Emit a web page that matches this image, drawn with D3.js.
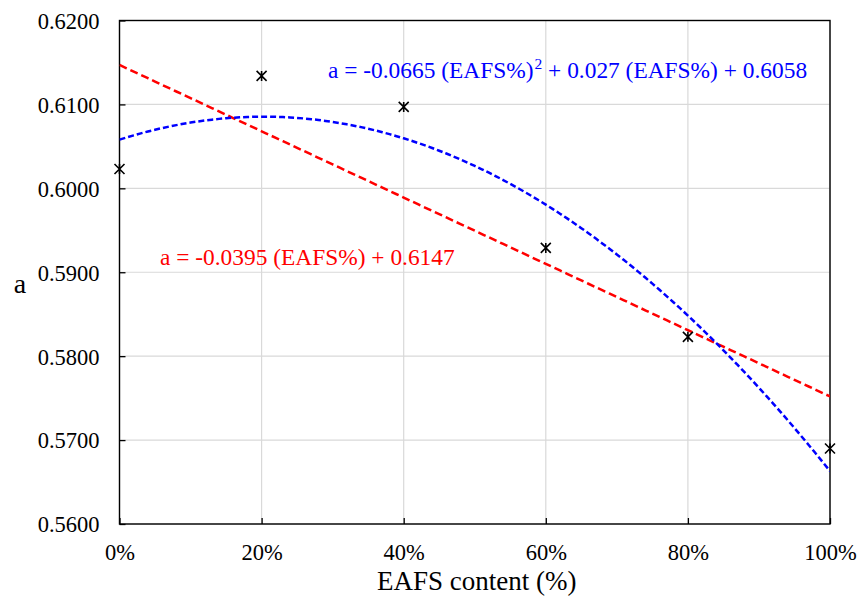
<!DOCTYPE html>
<html>
<head>
<meta charset="utf-8">
<script src="https://cdn.jsdelivr.net/npm/d3@7"></script>
<style>
  html, body { margin: 0; padding: 0; background: #fff; }
  svg text { font-family: "Liberation Serif", "DejaVu Serif", serif !important; }
</style>
</head>
<body>
<svg id="chart" width="862" height="601"></svg>
<script>
// ---- data ----
const eafsContent = [0, 0.2, 0.4, 0.6, 0.8, 1.0];
const aValues = [0.6023, 0.6134, 0.6097, 0.5929, 0.5823, 0.5690];
const linearCoef = [-0.0395, 0.6147];          // slope, intercept
const quadCoef = [-0.0665, 0.027, 0.6058];     // a2, a1, a0
const xTicks = [0, 0.2, 0.4, 0.6, 0.8, 1.0];
const yTicks = [0.56, 0.57, 0.58, 0.59, 0.60, 0.61, 0.62];
const linearLabel = "a = -0.0395 (EAFS%) + 0.6147";
const quadLabelParts = ["a = -0.0665 (EAFS%)", "2", " + 0.027 (EAFS%) + 0.6058"];
const xTitle = "EAFS content (%)";
const yTitle = "a";

// ---- layout ----
const svg = d3.select("#chart");
const pLeft = 119.5, pRight = 830, pTop = 20.5, pBottom = 524;
const x = d3.scaleLinear().domain([0, 1]).range([pLeft, pRight]);
const y = d3.scaleLinear().domain([0.56, 0.62]).range([pBottom, pTop]);
const FONT = "Liberation Serif, DejaVu Serif, serif";

// gridlines
svg.append("g").selectAll("line").data(yTicks).join("line")
  .attr("x1", pLeft).attr("x2", pRight)
  .attr("y1", d => y(d)).attr("y2", d => y(d))
  .attr("stroke", "#d9d9d9").attr("stroke-width", 1.2);
svg.append("g").selectAll("line").data(xTicks).join("line")
  .attr("y1", pTop).attr("y2", pBottom)
  .attr("x1", d => x(d)).attr("x2", d => x(d))
  .attr("stroke", "#d9d9d9").attr("stroke-width", 1.2);

// axes (inward ticks)
const yAxis = d3.axisLeft(y).tickValues(yTicks).tickSize(-6)
  .tickFormat(d3.format(".4f"));
const gy = svg.append("g").attr("transform", `translate(${pLeft},0)`).call(yAxis)
  .attr("font-family", FONT);
gy.select(".domain").remove();
gy.selectAll(".tick line").attr("stroke", "#000").attr("stroke-width", 1.3);
gy.selectAll(".tick text").attr("font-size", 22.5).attr("fill", "#000")
  .attr("x", -20).attr("dy", "0.35em");

const xAxis = d3.axisBottom(x).tickValues(xTicks).tickSize(-6)
  .tickFormat(d3.format(".0%"));
const gx = svg.append("g").attr("transform", `translate(0,${pBottom})`).call(xAxis)
  .attr("font-family", FONT);
gx.select(".domain").remove();
gx.selectAll(".tick line").attr("stroke", "#000").attr("stroke-width", 1.3);
gx.selectAll(".tick text").attr("font-size", 22.5).attr("fill", "#000")
  .attr("y", 36).attr("dy", 0);

// frame
svg.append("rect").attr("x", pLeft).attr("y", pTop)
  .attr("width", pRight - pLeft).attr("height", pBottom - pTop)
  .attr("fill", "none").attr("stroke", "#000").attr("stroke-width", 1.4);

// clip
svg.append("clipPath").attr("id", "clip").append("rect")
  .attr("x", pLeft).attr("y", pTop).attr("width", pRight - pLeft).attr("height", pBottom - pTop);

// trend lines
const xs = d3.range(0, 1.0001, 0.01);
const line = d3.line().x(d => x(d[0])).y(d => y(d[1]));
svg.append("path")
  .datum(xs.map(t => [t, linearCoef[0] * t + linearCoef[1]]))
  .attr("d", line).attr("fill", "none").attr("stroke", "#ff0000")
  .attr("stroke-width", 2.5).attr("stroke-dasharray", "8,4")
  .attr("clip-path", "url(#clip)");
svg.append("path")
  .datum(xs.map(t => [t, quadCoef[0] * t * t + quadCoef[1] * t + quadCoef[2]]))
  .attr("d", line).attr("fill", "none").attr("stroke", "#0000ff")
  .attr("stroke-width", 2.5).attr("stroke-dasharray", "6,3")
  .attr("clip-path", "url(#clip)");

// markers (star: × with vertical bar)
const pts = eafsContent.map((d, i) => [d, aValues[i]]);
const m = svg.append("g").selectAll("g").data(pts).join("g")
  .attr("transform", d => `translate(${x(d[0])},${y(d[1])})`);
const s = 5;
m.append("path").attr("d", `M${-s},${-s}L${s},${s}M${-s},${s}L${s},${-s}M0,${-s}L0,${s}`)
  .attr("stroke", "#000").attr("stroke-width", 1.6).attr("fill", "none");

// equation labels
const qt = svg.append("text").attr("x", 328).attr("y", 78)
  .attr("font-family", FONT).attr("font-size", 23.4).attr("fill", "#0000ff");
qt.append("tspan").text(quadLabelParts[0]);
qt.append("tspan").attr("font-size", 15.5).attr("dy", -9).attr("dx", 1).text(quadLabelParts[1]);
qt.append("tspan").attr("dy", 9).text(quadLabelParts[2]);

svg.append("text").attr("x", 160).attr("y", 265)
  .attr("font-family", FONT).attr("font-size", 23.4).attr("fill", "#ff0000").text(linearLabel);

// axis titles
svg.append("text").attr("x", (pLeft + pRight) / 2 + 2).attr("y", 590)
  .attr("font-family", FONT)
  .attr("text-anchor", "middle").attr("font-size", 27).attr("fill", "#000").text(xTitle);
svg.append("text").attr("x", 20).attr("y", 293)
  .attr("font-family", FONT)
  .attr("text-anchor", "middle").attr("font-size", 28).attr("fill", "#000").text(yTitle);
</script>
</body>
</html>
